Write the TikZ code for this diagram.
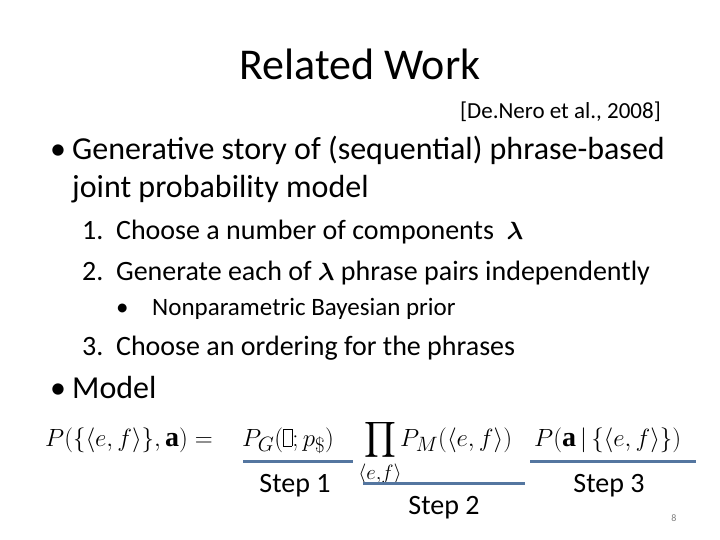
\documentclass[tikz,border=0pt]{standalone}
\usepackage{fontspec}
\setmainfont{Carlito}
\newfontfamily\serifbf{Liberation Serif}
\usepackage{amsmath}
\definecolor{stepblue}{RGB}{84,118,160}
\newcommand{\mybox}{\setlength{\fboxsep}{0pt}\fbox{\rule{0pt}{0.6em}\hspace{0.3em}}}
\newcommand{\ba}{\text{\serifbf\bfseries a}}
\begin{document}
\begin{tikzpicture}[x=1pt,y=-1pt,
  txt/.style={anchor=base west,inner sep=0pt},
  fm/.style={anchor=base west,inner sep=0pt,font=\fontsize{28}{30}\selectfont},
  stepline/.style={stepblue,line width=3pt}]
\useasboundingbox (0,0) rectangle (720,540);
\fill[white] (0,0) rectangle (720,540);
\node[anchor=base,inner sep=0pt,font=\fontsize{44}{48}\selectfont] (title) at (360,80) {Related Work};
\node[anchor=base east,inner sep=0pt,font=\fontsize{23}{26}\selectfont] (cite) at (661,119) {[De.Nero et al., 2008]};
\node[txt,font=\fontsize{32}{36}\selectfont] (b1) at (50,160) {•};
\node[txt,font=\fontsize{32}{36}\selectfont] (l1) at (72,160) {Generative story of (sequential) phrase-based};
\node[txt,font=\fontsize{32}{36}\selectfont] (l2) at (72,197) {joint probability model};
\node[txt,font=\fontsize{28}{32}\selectfont] (s1) at (82,240) {1.\ \ Choose a number of components \ $\boldsymbol\lambda$};
\node[txt,font=\fontsize{28}{32}\selectfont] (s2) at (82,280) {2.\ \ Generate each of $\boldsymbol\lambda$ phrase pairs independently};
\node[txt,font=\fontsize{25}{28}\selectfont] (sb) at (116,315) {•};
\node[txt,font=\fontsize{25}{28}\selectfont] (sbt) at (152,315) {Nonparametric Bayesian prior};
\node[txt,font=\fontsize{28}{32}\selectfont] (s3) at (82,355) {3.\ \ Choose an ordering for the phrases};
\node[txt,font=\fontsize{32}{36}\selectfont] (b2) at (50,398) {•};
\node[txt,font=\fontsize{32}{36}\selectfont] (m) at (72,398) {Model};
\node[fm] (f1) at (45,446) {$P(\{\langle e,f\rangle\},\ba) =$};
\node[fm] (f2) at (242,446) {$P_G(\mybox;p_\$)$};
\node[fm,anchor=base] (f3) at (380,446) {$\displaystyle\prod_{\langle e,f\rangle}$};
\node[fm] (f4) at (400,446) {$P_M(\langle e,f\rangle)$};
\node[fm] (f5) at (534,446) {$P(\ba\,|\,\{\langle e,f\rangle\})$};
\coordinate (a1) at (243,461); \coordinate (a2) at (353,461);
\coordinate (c1) at (363,483); \coordinate (c2) at (525,483);
\coordinate (d1) at (530,461); \coordinate (d2) at (696,461);
\draw[stepline] (a1) -- (a2);
\draw[stepline] (c1) -- (c2);
\draw[stepline] (d1) -- (d2);
\node[anchor=base,inner sep=0pt,font=\fontsize{28}{30}\selectfont] (t1) at (295,492) {Step 1};
\node[anchor=base,inner sep=0pt,font=\fontsize{28}{30}\selectfont] (t2) at (444,514) {Step 2};
\node[anchor=base,inner sep=0pt,font=\fontsize{28}{30}\selectfont] (t3) at (609,492) {Step 3};
\node[anchor=base,inner sep=0pt,font=\fontsize{10}{11}\selectfont,text=gray] (pg) at (674,521) {8};
\end{tikzpicture}
\end{document}
